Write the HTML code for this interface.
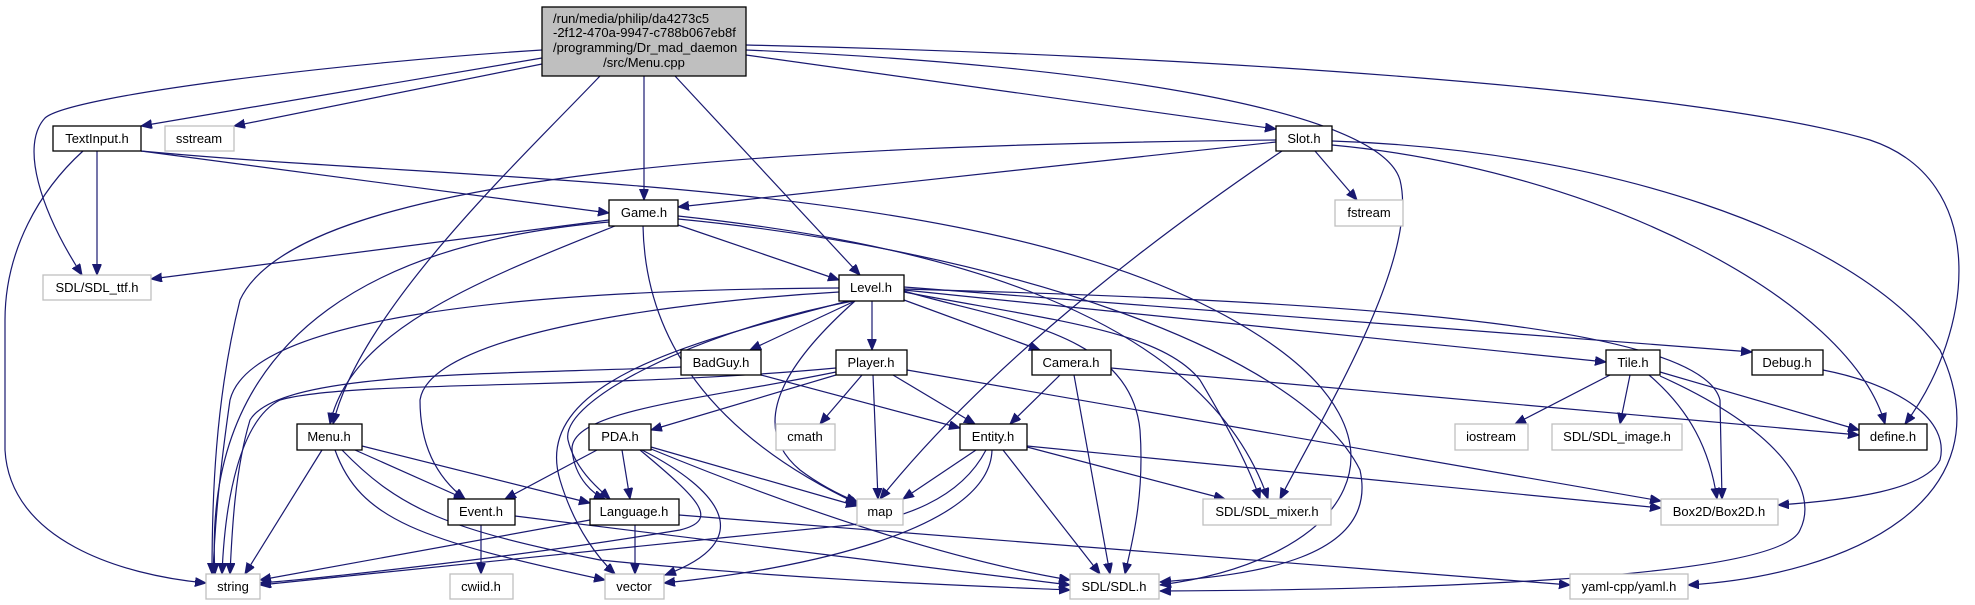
<!DOCTYPE html>
<html><head><meta charset="utf-8"><style>
html,body{margin:0;padding:0;background:#fff;}
svg{display:block;}
text{font-family:"Liberation Sans",sans-serif;font-size:13px;fill:#000;}
.e{fill:none;stroke:#191970;stroke-width:1.2;marker-end:url(#a);}
.n{fill:#fff;stroke:#000;stroke-width:1.3;}
.g{fill:#fff;stroke:#bfbfbf;stroke-width:1.3;}
</style></head><body>
<svg width="1975" height="605" viewBox="0 0 1975 605" xmlns="http://www.w3.org/2000/svg">
<defs><marker id="a" markerUnits="userSpaceOnUse" markerWidth="12" markerHeight="10" refX="11" refY="4.5" orient="auto"><polygon points="0,0 11,4.5 0,9" fill="#191970" stroke="#191970"/></marker></defs>
<g>
<path class="e" d="M542,58 L141,126"/>
<path class="e" d="M542,64 L234,126"/>
<path class="e" d="M542,50 C350,62 70,95 45,118 C20,145 40,210 82,275"/>
<path class="e" d="M644,76 L644,200"/>
<path class="e" d="M600,76 C520,160 360,310 333,424"/>
<path class="e" d="M675,76 L860,275"/>
<path class="e" d="M746,55 L1276,129"/>
<path class="e" d="M746,50 C1100,65 1380,110 1400,180 C1420,260 1320,420 1280,499"/>
<path class="e" d="M746,45 C1200,55 1700,90 1870,140 C1990,180 1975,330 1905,424"/>
<path class="e" d="M97,151 L97,275"/>
<path class="e" d="M83,151 C40,190 5,250 5,320 L5,450 C10,540 120,575 206,583"/>
<path class="e" d="M141,151 L609,213"/>
<path class="e" d="M141,151 C500,185 1000,175 1250,330 C1430,440 1350,560 1160,585"/>
<path class="e" d="M678,219 C1000,250 1300,350 1360,470 C1380,560 1250,575 1160,582"/>
<path class="e" d="M609,220 L151,279"/>
<path class="e" d="M609,222 C400,240 200,320 215,574"/>
<path class="e" d="M615,226 C480,280 350,330 330,424"/>
<path class="e" d="M678,225 L839,280"/>
<path class="e" d="M643,226 C645,330 700,430 860,505"/>
<path class="e" d="M678,216 C900,240 1200,300 1268,499"/>
<path class="e" d="M1276,142 L678,207"/>
<path class="e" d="M1276,140 C800,145 300,170 240,300 C215,400 212,500 212,574"/>
<path class="e" d="M1315,151 L1357,200"/>
<path class="e" d="M1282,151 C1180,220 1000,350 880,499"/>
<path class="e" d="M1332,145 C1600,170 1850,300 1885,424"/>
<path class="e" d="M1332,141 C1600,150 1850,230 1940,350 C2010,500 1850,575 1688,585"/>
<path class="e" d="M872,301 L872,350"/>
<path class="e" d="M855,301 L750,350"/>
<path class="e" d="M904,300 L1040,350"/>
<path class="e" d="M904,290 L1606,362"/>
<path class="e" d="M904,287 L1752,352"/>
<path class="e" d="M904,289 C1300,300 1700,320 1720,400 L1722,499"/>
<path class="e" d="M839,288 C500,290 250,320 230,400 C220,470 215,520 213,574"/>
<path class="e" d="M839,292 C700,300 430,330 420,400 C420,450 440,480 465,499"/>
<path class="e" d="M853,301 C700,330 560,400 568,440 C575,470 600,490 610,499"/>
<path class="e" d="M848,301 C700,340 530,380 560,480 C575,530 600,560 615,574"/>
<path class="e" d="M855,301 C800,350 740,420 800,470 C820,485 840,495 857,502"/>
<path class="e" d="M904,292 C1050,320 1160,330 1200,380 C1230,430 1250,470 1260,499"/>
<path class="e" d="M904,291 C1000,320 1130,330 1140,430 C1145,500 1130,550 1125,574"/>
<path class="e" d="M836,368 C600,390 350,380 280,400 C240,420 225,500 222,574"/>
<path class="e" d="M836,372 C700,400 570,410 572,450 C575,480 595,495 605,499"/>
<path class="e" d="M836,375 L651,430"/>
<path class="e" d="M862,375 L820,424"/>
<path class="e" d="M873,375 L878,499"/>
<path class="e" d="M893,375 L975,424"/>
<path class="e" d="M907,370 L1661,501"/>
<path class="e" d="M681,367 C500,375 280,370 250,420 C235,470 232,530 230,574"/>
<path class="e" d="M761,375 L960,428"/>
<path class="e" d="M1060,375 L1010,424"/>
<path class="e" d="M1074,375 L1110,574"/>
<path class="e" d="M1111,368 L1859,435"/>
<path class="e" d="M1610,375 L1515,424"/>
<path class="e" d="M1630,375 L1620,424"/>
<path class="e" d="M1660,372 L1859,430"/>
<path class="e" d="M1649,375 C1690,410 1710,450 1717,499"/>
<path class="e" d="M1660,376 C1780,430 1820,490 1800,530 C1780,580 1400,590 1160,591"/>
<path class="e" d="M1823,370 C1900,385 1950,420 1940,460 C1925,490 1850,500 1778,505"/>
<path class="e" d="M322,450 L245,574"/>
<path class="e" d="M355,450 L465,499"/>
<path class="e" d="M362,446 L590,503"/>
<path class="e" d="M335,450 C360,520 420,540 605,580"/>
<path class="e" d="M342,450 C400,510 450,530 600,560 C800,580 950,585 1070,590"/>
<path class="e" d="M597,450 L505,499"/>
<path class="e" d="M622,450 L630,499"/>
<path class="e" d="M651,447 L857,506"/>
<path class="e" d="M642,450 C720,490 760,540 665,575"/>
<path class="e" d="M640,450 C700,500 720,520 680,530 C500,560 300,580 260,583"/>
<path class="e" d="M651,449 C800,510 950,560 1070,580"/>
<path class="e" d="M976,450 L903,499"/>
<path class="e" d="M986,450 C960,500 900,520 850,525 C600,550 300,580 260,585"/>
<path class="e" d="M992,450 C990,530 800,570 664,583"/>
<path class="e" d="M1003,450 L1100,574"/>
<path class="e" d="M1027,447 L1225,499"/>
<path class="e" d="M1027,446 L1661,508"/>
<path class="e" d="M481,525 L481,574"/>
<path class="e" d="M515,516 L1070,585"/>
<path class="e" d="M635,525 L635,574"/>
<path class="e" d="M590,520 L260,580"/>
<path class="e" d="M679,515 L1570,585"/>
</g>
<g>
<rect x="542" y="7" width="204" height="69" fill="#bfbfbf" stroke="#000" stroke-width="1.3"/>
<text x="553" y="23">/run/media/philip/da4273c5</text>
<text x="553" y="37">-2f12-470a-9947-c788b067eb8f</text>
<text x="553" y="52">/programming/Dr_mad_daemon</text>
<text x="644" y="67" text-anchor="middle">/src/Menu.cpp</text>
</g>
<g text-anchor="middle">
<rect class="n" x="53" y="126" width="88" height="25"/><text x="97" y="143">TextInput.h</text>
<rect class="g" x="165" y="126" width="69" height="25"/><text x="199" y="143">sstream</text>
<rect class="g" x="43" y="275" width="108" height="25"/><text x="97" y="292">SDL/SDL_ttf.h</text>
<rect class="n" x="609" y="200" width="69" height="26"/><text x="644" y="217">Game.h</text>
<rect class="n" x="1276" y="126" width="56" height="25"/><text x="1304" y="143">Slot.h</text>
<rect class="g" x="1335" y="200" width="68" height="26"/><text x="1369" y="217">fstream</text>
<rect class="n" x="839" y="275" width="65" height="26"/><text x="871" y="292">Level.h</text>
<rect class="n" x="681" y="350" width="80" height="25"/><text x="721" y="367">BadGuy.h</text>
<rect class="n" x="836" y="350" width="71" height="25"/><text x="871" y="367">Player.h</text>
<rect class="n" x="1032" y="350" width="79" height="25"/><text x="1071" y="367">Camera.h</text>
<rect class="n" x="1606" y="350" width="54" height="25"/><text x="1633" y="367">Tile.h</text>
<rect class="n" x="1752" y="350" width="71" height="25"/><text x="1787" y="367">Debug.h</text>
<rect class="n" x="297" y="424" width="65" height="26"/><text x="329" y="441">Menu.h</text>
<rect class="n" x="589" y="424" width="62" height="26"/><text x="620" y="441">PDA.h</text>
<rect class="g" x="776" y="424" width="59" height="26"/><text x="805" y="441">cmath</text>
<rect class="n" x="960" y="424" width="67" height="26"/><text x="993" y="441">Entity.h</text>
<rect class="g" x="1455" y="424" width="73" height="26"/><text x="1491" y="441">iostream</text>
<rect class="g" x="1552" y="424" width="130" height="26"/><text x="1617" y="441">SDL/SDL_image.h</text>
<rect class="n" x="1859" y="424" width="68" height="26"/><text x="1893" y="441">define.h</text>
<rect class="n" x="448" y="499" width="67" height="26"/><text x="481" y="516">Event.h</text>
<rect class="n" x="590" y="499" width="89" height="26"/><text x="634" y="516">Language.h</text>
<rect class="g" x="857" y="499" width="46" height="26"/><text x="880" y="516">map</text>
<rect class="g" x="1203" y="499" width="128" height="26"/><text x="1267" y="516">SDL/SDL_mixer.h</text>
<rect class="g" x="1661" y="499" width="117" height="26"/><text x="1719" y="516">Box2D/Box2D.h</text>
<rect class="g" x="206" y="574" width="54" height="25"/><text x="233" y="591">string</text>
<rect class="g" x="450" y="574" width="63" height="25"/><text x="481" y="591">cwiid.h</text>
<rect class="g" x="605" y="574" width="59" height="25"/><text x="634" y="591">vector</text>
<rect class="g" x="1070" y="574" width="89" height="25"/><text x="1114" y="591">SDL/SDL.h</text>
<rect class="g" x="1570" y="574" width="118" height="25"/><text x="1629" y="591">yaml-cpp/yaml.h</text>
</g>
</svg>
</body></html>
